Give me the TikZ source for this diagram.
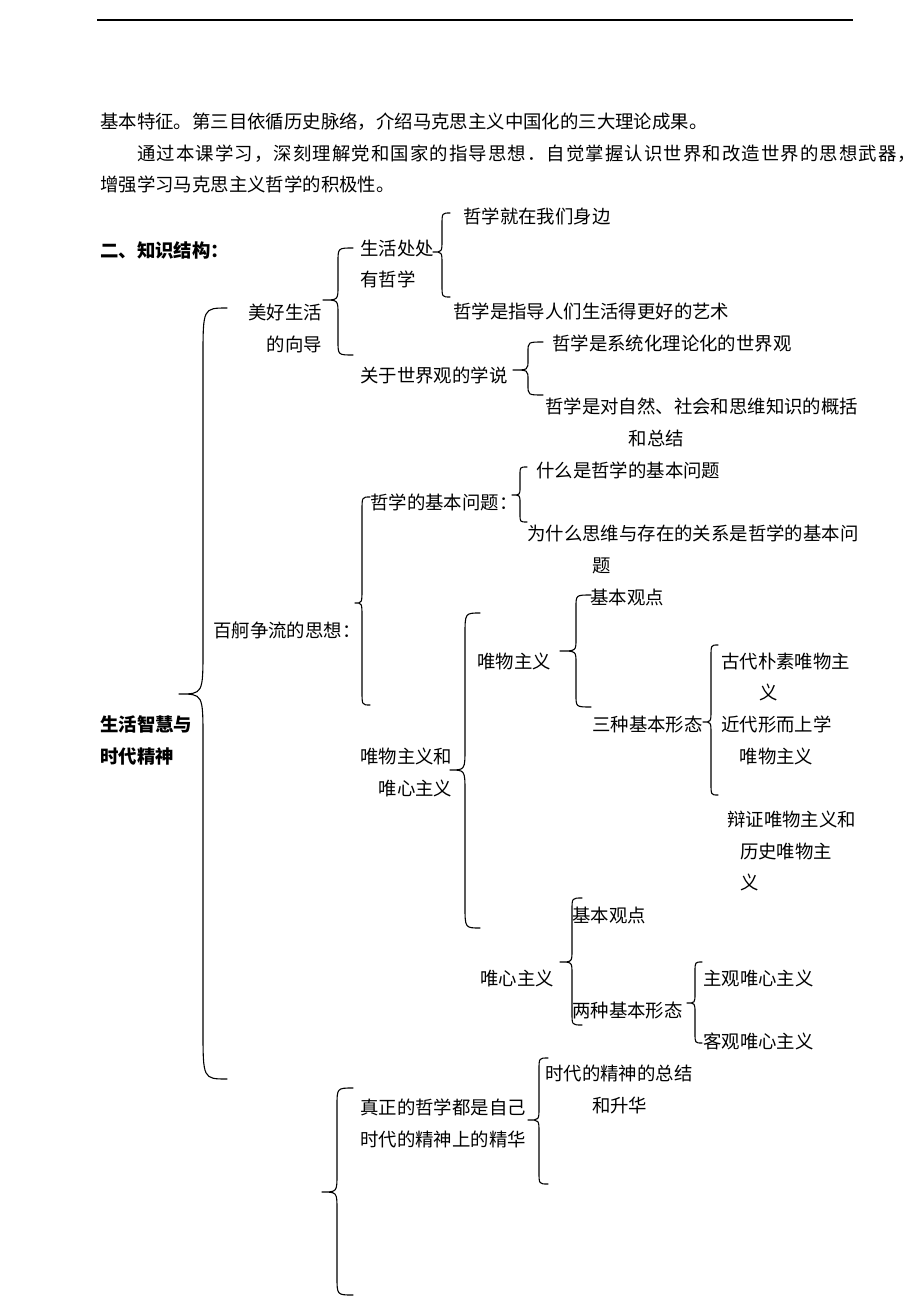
\documentclass[tikz,border=0pt]{standalone}
\usepackage{fontspec}
\setmainfont{Noto Sans CJK SC}
\usetikzlibrary{calc}
\tikzset{
  txt/.style={anchor=north west,inner sep=0pt,yshift=8.5pt,align=left,
    font=\fontsize{18.4}{31.8}\selectfont},
  brc/.style={line width=1.1pt,line cap=round,line join=round}
}

\begin{document}
\begin{tikzpicture}[x=1pt,y=-1pt]
  \useasboundingbox (0,0) rectangle (920,1300);
  \draw[line width=1.2pt] (97,20) -- (853,20);

  \node[txt] (p1) at (100,121) {基本特征。第三目依循历史脉络，介绍马克思主义中国化的三大理论成果。};
  \node[txt] (p2) at (137,153) {\addfontfeatures{LetterSpace=6}通过本课学习，深刻理解党和国家的指导思想．自觉掌握认识世界和改造世界的思想武器，};
  \node[txt] (p3) at (100,184) {增强学习马克思主义哲学的积极性。};
  \node[txt] (head) at (100,250) {\bfseries 二、知识结构：};

  \node[txt] (root) at (100,724) {\bfseries 生活智慧与\\\bfseries 时代精神};
  \node[txt] (mh) at (248,312) {美好生活\\\hspace*{1em}的向导};
  \node[txt] (shc) at (360,248) {生活处处\\有哲学};
  \node[txt] (shc1) at (463,216) {哲学就在我们身边};
  \node[txt] (shc2) at (453,311) {哲学是指导人们生活得更好的艺术};
  \node[txt] (sjg) at (360,375) {关于世界观的学说};
  \node[txt] (sjg1) at (552,343) {哲学是系统化理论化的世界观};
  \node[txt] (sjg2) at (545,406) {哲学是对自然、社会和思维知识的概括\\\hspace*{4.55em}和总结};
  \node[txt] (bg) at (213,630) {百舸争流的思想：};
  \node[txt] (jb) at (370,502) {哲学的基本问题：};
  \node[txt] (jb1) at (536,470) {什么是哲学的基本问题};
  \node[txt] (jb2) at (527,533) {为什么思维与存在的关系是哲学的基本问\\\hspace*{3.55em}题};
  \node[txt] (wwx) at (360,756) {唯物主义和\\\hspace*{1em}唯心主义};
  \node[txt] (ww) at (477,661) {唯物主义};
  \node[txt] (ww1) at (590,597) {基本观点};
  \node[txt] (ww2) at (592,724) {三种基本形态};
  \node[txt] (ww21) at (721,661) {古代朴素唯物主\\\hspace*{2.1em}义};
  \node[txt] (ww22) at (721,724) {近代形而上学\\\hspace*{1em}唯物主义};
  \node[txt] (ww23) at (727,819) {辩证唯物主义和\\\hspace*{0.7em}历史唯物主\\\hspace*{0.7em}义};
  \node[txt] (wx) at (480,978) {唯心主义};
  \node[txt] (wx1) at (572,915) {基本观点};
  \node[txt] (wx2) at (572,1010) {两种基本形态};
  \node[txt] (wx21) at (703,978) {主观唯心主义};
  \node[txt] (wx22) at (703,1041) {客观唯心主义};
  \node[txt] (zz) at (360,1107) {真正的哲学都是自己\\时代的精神上的精华};
  \node[txt] (zz1) at (545,1073) {时代的精神的总结\\\hspace*{2.55em}和升华};

  \foreach \xe/\xv/\xt/\ya/\ym/\yb/\ra/\rb in {%
    227/203/179/308/694/1079/50/45,
    353/338/323/248/300/355/14/14,
    450/442/433/213/252/297/12/12,
    543/528/513/342/370/395/10/10,
    370/362/355/497/603/705/14/14,
    527/520/512/467/495/522/8/8,
    480/465/450/613/770/928/22/22,
    591/576/560/595/651/707/12/12,
    718/711/703/645/722/795/12/12,
    582/572/560/898/962/1025/12/12,
    702/695/687/962/1003/1043/10/10,
    353/337/322/1088/1192/1295/18/18,
    548/539/528/1058/1120/1184/12/12}{%
      \draw[brc] (\xe,\ya) .. controls (\xv,\ya) .. (\xv,\ya+\ra)
        -- (\xv,\ym-\rb) .. controls (\xv,\ym) .. (\xt,\ym)
        .. controls (\xv,\ym) .. (\xv,\ym+\rb)
        -- (\xv,\yb-\ra) .. controls (\xv,\yb) .. (\xe,\yb);
    }
\end{tikzpicture}
\end{document}
